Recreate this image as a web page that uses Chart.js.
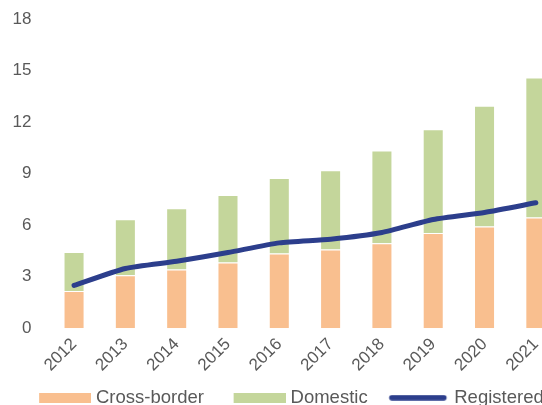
<!DOCTYPE html>
<html>
<head>
<meta charset="utf-8">
<title>Cross-border / Domestic / Registered</title>
<script src="https://cdn.jsdelivr.net/npm/chart.js@4/dist/chart.umd.min.js"></script>
<style>
  html, body { margin: 0; padding: 0; background: #fff; overflow: hidden; }
  #wrap { position: absolute; left: 0; top: 0; width: 579px; height: 417px; }
</style>
</head>
<body>
<div id="wrap"><canvas id="chart"></canvas></div>
<script>
// ===== 数据 =====
var years = ['2012', '2013', '2014', '2015', '2016', '2017', '2018', '2019', '2020', '2021'];
var crossBorder = [2.17, 3.09, 3.42, 3.83, 4.35, 4.58, 4.95, 5.55, 5.92, 6.45];
var domestic = [2.27, 3.26, 3.57, 3.92, 4.39, 4.62, 5.40, 6.04, 7.03, 8.15];
var registered = [2.49, 3.48, 3.90, 4.41, 4.97, 5.18, 5.57, 6.33, 6.74, 7.30];
var yTicks = [0, 3, 6, 9, 12, 15, 18];

// ===== 样式 =====
var ORANGE = '#F9BF8F';
var GREEN = '#C4D69B';
var NAVY = '#2C3E8C';
var TEXT = '#595959';
var FONT = "'Liberation Sans', Arial, sans-serif";

// ===== 图例色块（右对齐在透明画布里，缩小色块与文字的间距） =====
function makeSwatch(kind, color) {
  var c = document.createElement('canvas');
  c.width = 76;
  c.height = kind === 'line' ? 6 : 10;
  var g = c.getContext('2d');
  if (kind === 'line') {
    g.strokeStyle = color;
    g.lineWidth = 5.5;
    g.lineCap = 'round';
    g.beginPath();
    g.moveTo(18.5, 3);
    g.lineTo(70.5, 3);
    g.stroke();
  } else {
    g.fillStyle = color;
    g.fillRect(24, 0, 52, 10);
  }
  return c;
}

var SWATCHES = [makeSwatch('rect', ORANGE), makeSwatch('rect', GREEN), makeSwatch('line', NAVY)];

function legendLabels(chart) {
  var items = Chart.defaults.plugins.legend.labels.generateLabels(chart);
  items.forEach(function(it) {
    it.pointStyle = SWATCHES[it.datasetIndex];
    it.lineWidth = 0;
  });
  return items;
}

var ctx = document.getElementById('chart');
new Chart(ctx, {
  data: {
    labels: years,
    datasets: [
      {
        type: 'bar',
        label: 'Cross-border',
        data: crossBorder,
        backgroundColor: ORANGE,
        borderColor: 'rgba(255,255,255,0.55)',
        borderWidth: 1,
        barPercentage: 0.41,
        categoryPercentage: 1,
        order: 1
      },
      {
        type: 'bar',
        label: 'Domestic',
        data: domestic,
        backgroundColor: GREEN,
        borderColor: 'rgba(255,255,255,0.55)',
        borderWidth: 1,
        barPercentage: 0.41,
        categoryPercentage: 1,
        order: 1
      },
      {
        type: 'line',
        label: 'Registered',
        data: registered,
        borderColor: NAVY,
        backgroundColor: NAVY,
        borderWidth: 5,
        borderCapStyle: 'round',
        borderJoinStyle: 'round',
        pointRadius: 0,
        tension: 0.2,
        order: 0
      }
    ]
  },
  options: {
    responsive: true,
    maintainAspectRatio: false,
    animation: false,
    layout: { padding: { top: 19, left: 9.4, right: 17.5, bottom: 0 } },
    plugins: {
      tooltip: { enabled: false },
      legend: {
        position: 'bottom',
        align: 'start',
        labels: {
          usePointStyle: true,
          pointStyleWidth: 67.35,
          boxWidth: 67.35,
          boxHeight: 10,
          padding: 10,
          color: TEXT,
          font: { family: FONT, size: 18.5 },
          generateLabels: legendLabels,
          sort: function(a, b) { return a.datasetIndex - b.datasetIndex; }
        }
      }
    },
    scales: {
      x: {
        stacked: true,
        grid: { display: false, drawTicks: false },
        border: { display: false },
        afterFit: function(axis) { axis.height = 50.25; },
        ticks: {
          color: TEXT,
          font: { family: FONT, size: 17 },
          minRotation: 45,
          maxRotation: 45,
          padding: 6
        }
      },
      y: {
        stacked: true,
        min: 0,
        max: 18,
        grid: { display: false, drawTicks: false },
        border: { display: false },
        afterFit: function(axis) {
          axis.width = 39;
          axis.paddingTop = 0;
        },
        afterBuildTicks: function(axis) {
          axis.ticks = yTicks.map(function(v) { return { value: v }; });
        },
        ticks: {
          color: TEXT,
          font: { family: FONT, size: 17 },
          padding: 17
        }
      }
    }
  }
});
</script>
</body>
</html>
